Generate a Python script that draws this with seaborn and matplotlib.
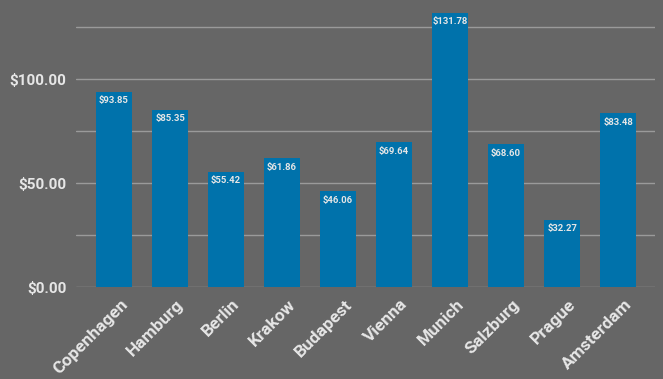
import matplotlib
matplotlib.use("Agg")
import matplotlib.pyplot as plt
import matplotlib.transforms as mtransforms
import pandas as pd
import seaborn as sns
from matplotlib.ticker import FuncFormatter, MultipleLocator


cities = ["Copenhagen", "Hamburg", "Berlin", "Krakow", "Budapest",
          "Vienna", "Munich", "Salzburg", "Prague", "Amsterdam"]
prices = [93.85, 85.35, 55.42, 61.86, 46.06, 69.64, 131.78, 68.60, 32.27, 83.48]

bg = "#666666"
bar_color = "#0072ab"
text_color = "#e6e6e6"
grid_color = "#9a9a9a"

sns.set_theme(style="white")
plt.rcParams["font.family"] = ["Roboto", "DejaVu Sans"]

df = pd.DataFrame({"City": cities, "Price": prices})

fig = plt.figure(figsize=(6.63, 3.79), dpi=100, facecolor=bg)
ax = fig.add_axes([0.1146, 0.2427, 0.8734, 0.7573])
ax.set_facecolor(bg)

sns.barplot(data=df, x="City", y="Price", color=bar_color, saturation=1,
            width=0.64, linewidth=0, ax=ax, zorder=3)

# value labels just inside the top of each bar
for i, v in enumerate(prices):
    ax.annotate(f"${v:.2f}", (i, v), xytext=(0, -6.5), textcoords="offset points",
                ha="center", va="center", color=text_color, fontsize=6.8,
                fontweight="bold", zorder=4)

ax.set_ylim(0, 138)
ax.set_xlim(-0.68, 9.66)
ax.yaxis.set_major_locator(MultipleLocator(50))
ax.yaxis.set_minor_locator(MultipleLocator(25))
ax.yaxis.set_major_formatter(FuncFormatter(lambda v, p: f"${v:.2f}"))
ax.grid(axis="y", which="both", color=grid_color, linewidth=1, zorder=0)
ax.set_axisbelow(True)

for s in ax.spines.values():
    s.set_visible(False)
ax.tick_params(axis="both", which="both", length=0)
ax.tick_params(axis="y", pad=7, labelsize=11, labelcolor=text_color)
ax.tick_params(axis="x", pad=7, labelsize=12.5, labelcolor=text_color)
for lbl in ax.get_yticklabels():
    lbl.set_fontweight("bold")
shift = mtransforms.ScaledTranslation(6 / 100, 0, fig.dpi_scale_trans)
for lbl in ax.get_xticklabels():
    lbl.set_rotation(45)
    lbl.set_ha("right")
    lbl.set_rotation_mode("anchor")
    lbl.set_fontweight("bold")
    lbl.set_transform(lbl.get_transform() + shift)

ax.set_xlabel("")
ax.set_ylabel("")

fig.savefig("out.png", dpi=100, facecolor=bg)
